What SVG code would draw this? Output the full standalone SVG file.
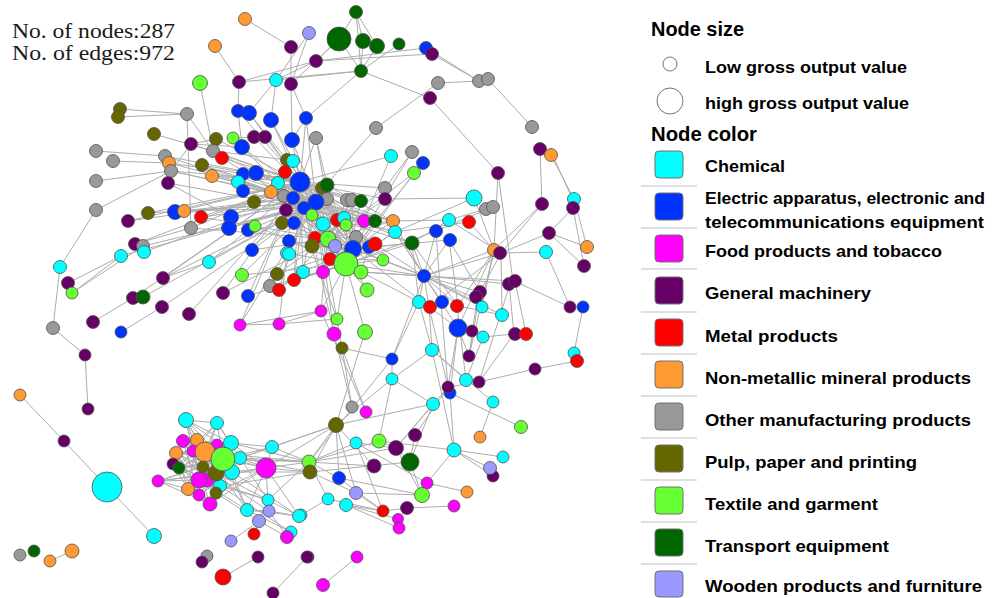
<svg xmlns="http://www.w3.org/2000/svg" width="998" height="598" viewBox="0 0 998 598">
<style>
.e{fill:none;stroke:#adadad;stroke-width:1}
circle{stroke:#505050;stroke-width:.8}
.ch{fill:#00ffff}.el{fill:#0033ff}.fo{fill:#ff00ff}.gm{fill:#660066}.me{fill:#ff0000}.nm{fill:#ff9933}
.ot{fill:#999999}.pu{fill:#666600}.te{fill:#66ff33}.tr{fill:#006600}.wo{fill:#9999ff}
.sw{stroke:#707070;stroke-width:1}
.sep{stroke:#c0c0c0;stroke-width:1}
.lt{font-family:"Liberation Sans",Arial,sans-serif;font-weight:bold;font-size:17px;fill:#000}
.hd{font-family:"Liberation Sans",Arial,sans-serif;font-weight:bold;font-size:20px;fill:#000}
.st{font-family:"Liberation Serif","Times New Roman",serif;font-size:20px;fill:#1a1a1a}
</style>
<rect width="998" height="598" fill="#ffffff"/>
<g id="stats">
<text class="st" x="12" y="38" textLength="163" lengthAdjust="spacingAndGlyphs">No. of nodes:287</text>
<text class="st" x="12" y="60" textLength="163" lengthAdjust="spacingAndGlyphs">No. of edges:972</text>
</g>
<g id="connectors">
<path class="e" d="M245 19L291 47M215 46L239 82M291 47L291 84M309 33L276 80M309 33L291 84M316 61L276 80M316 61L339 39M316 61L426 48M316 61L432 54M316 61L239 82M339 39L356 12M356 12L363 41M356 12L361 71M356 12L377 46M339 39L361 71M363 41L361 71M377 46L361 71M399 44L361 71M339 39L291 84M361 71L306 118M361 71L430 98M361 71L276 80M361 71L239 82M432 54L479 81M426 48L479 81M438 83L479 81M438 83L376 128M376 128L326 185M488 79L532 127M430 98L498 173M498 173L513 281M498 173L494 250M540 149L542 204M551 155L574 199M553 156L575 205M542 204L501 253M573 208L549 233M549 233L501 253M549 233L587 247M574 199L587 247M573 208L584 266M546 252L500 253M546 252L570 307M583 307L574 353M570 307L514 281M577 361L535 369M535 369L479 382M515 281L526 334M509 284L514 334M584 266L549 233"/>
<path class="e" d="M239 82L238 111M276 80L271 120M276 80L249 113M291 84L292 140M291 84L306 118M238 111L242 147M249 113L287 160M271 120L300 182M306 118L300 182M306 118L316 202M306 118L292 140M200 83L213 151M187 114L120 109M187 114L118 117M187 114L213 151M187 114L191 228M154 134L213 151M213 151L300 182M213 151L287 160M233 138L254 137M254 137L265 137M265 137L300 182M254 137L316 202M292 140L300 182M292 140L316 202M316 138L300 182M316 138L327 199M316 138L346 264M191 144L171 171M191 144L242 147M191 144L216 139M216 139L300 182M242 147L293 198M222 158L300 182M222 158L284 196M96 151L165 156M113 161L169 163M96 181L171 171M96 210L171 171M96 210L60 267M60 267L53 328M53 328L85 355M85 355L88 409M165 156L293 198M169 163L300 182M171 171L316 202M171 171L284 196M168 183L304 208M168 183L231 217M202 165L316 202M202 165L284 196M212 176L300 182M212 176L293 198M243 174L316 202M256 173L300 182M243 191L304 208M238 182L316 202M278 183L316 202M270 192L328 239M285 172L346 264M287 160L353 249M293 161L316 202M175 212L293 198M175 212L316 202M184 211L304 208M201 217L300 182M201 217L328 239M148 213L316 202M148 213L300 182M128 221L293 198M128 221L300 182M231 217L316 202M229 228L304 208M191 228L300 182M191 228L328 239M248 230L316 202M255 226L346 264M254 202L300 182M286 210L353 249M282 223L316 202M135 244L300 182M143 246L304 208M121 256L316 202M144 252L293 198M121 256L68 283M121 256L72 293M143 246L72 293M135 244L191 228M163 278L300 182M163 278L316 202M133 298L300 182M143 297L304 208M162 307L316 202M121 332L162 307M93 322L133 298M189 314L293 198M209 262L316 202M209 262L248 230M252 250L316 202M242 275L316 202M242 275L346 264M223 293L300 182M248 296L293 198M270 286L316 202M279 290L304 208M277 274L328 239M294 280L304 208M303 272L300 182M323 272L316 202M209 262L163 278M20 395L64 441M64 441L107 487M107 487L154 536M50 561L72 551M165 156L300 182M169 163L316 202M171 171L300 182M212 176L316 202M202 165L300 182M191 144L300 182M213 151L316 202M242 147L316 202M238 111L300 182M249 113L300 182M271 120L316 202M175 212L300 182M201 217L316 202M229 228L316 202M231 217L300 182M248 230L300 182"/>
<path class="e" d="M300 182L316 202M300 182L327 199M300 182L347 200M300 182L352 200M300 182L361 201M300 182L385 188M300 182L385 199M300 182L323 224M300 182L337 220M300 182L344 218M300 182L364 221M300 182L375 221M300 182L353 249M300 182L328 239M300 182L312 246M293 198L346 264M293 198L353 249M293 198L375 221M293 198L393 221M284 196L353 249M284 196L346 264M284 196L364 221M304 208L346 264M304 208L375 244M304 208L395 232M316 202L346 264M316 202L353 249M316 202L393 221M316 202L412 243M316 202L356 237M316 202L375 221M326 185L353 249M326 185L393 221M327 199L346 264M347 200L346 264M352 200L328 239M361 201L315 238M385 188L312 246M385 199L328 239M385 199L474 198M391 156L346 264M412 152L353 249M423 163L353 249M414 173L328 239M391 156L300 182M414 173L346 264M412 152L385 188M312 215L346 264M294 223L353 249M289 241L346 264M287 253L346 264M252 250L328 239M313 215L375 244M323 224L369 247M337 220L412 243M344 218L395 232M346 225L393 221M364 221L328 239M375 221L346 264M393 221L353 249M395 232L346 264M356 237L315 238M328 239L383 260M346 264L383 260M346 264L412 243M353 249L412 243M346 264L424 276M328 239L424 276M353 249L424 276M375 244L424 276M369 247L361 272M330 259L383 260M361 272L424 276M367 290L346 264M367 290L316 202M303 272L353 249M323 272L346 264M294 280L346 264M277 274L353 249M270 286L346 264M279 290L328 239M248 296L346 264M223 293L328 239M293 198L328 239M284 196L328 239M304 208L353 249M316 202L328 239M300 182L293 198M285 172L316 202M256 173L316 202M271 192L316 202M327 199L353 249M347 200L328 239M352 200L353 249M361 201L346 264M327 199L393 221M304 208L364 221M293 198L337 220M316 202L344 218M300 182L369 247M316 202L375 244M328 239L393 221M346 264L395 232M312 246L353 249M289 241L353 249M294 223L346 264M282 223L353 249M286 210L346 264M316 202L303 272M328 239L323 272M300 182L294 280"/>
<path class="e" d="M395 232L474 198M393 221L449 220M412 243L449 220M395 232L469 222M353 249L449 240M346 264L436 231M424 276L395 232M424 276L383 260M424 276L436 231M424 276L449 240M424 276L494 250M424 276L501 253M424 276L514 281M424 276L510 284M424 276L480 292M424 276L477 299M424 276L419 302M424 276L429 307M424 276L441 302M424 276L458 306M424 276L482 307M424 276L502 315M474 198L494 250M486 209L449 220M493 207L436 231M469 222L494 250M449 220L501 253M494 250L458 306M494 250L482 307M501 253L502 315M501 253L429 307M494 250L469 356M501 253L480 292M542 204L494 250M436 231L441 302M449 240L458 306M412 243L419 302M458 328L441 302M458 328L472 331M458 328L469 356M458 328L450 393M458 328L448 387M458 328L429 307M458 328L494 250M502 315L458 306M483 337L514 334M483 337L466 380M469 356L480 292M469 356L477 299M419 302L392 359M419 302L432 350M429 307L432 350M429 307L448 387M441 302L448 387M457 306L466 380M432 350L392 379M432 350L466 380M432 350L493 402M493 402L480 437M450 393L521 427M448 387L415 435M448 387L396 448M448 387L479 382M479 382L510 284M479 382L514 334M454 450L450 393M454 450L503 457M454 450L427 483M454 450L490 468M454 450L432 350M433 404L392 379M433 404L396 448M433 404L410 462M433 404L336 425M392 359L392 379M392 359L424 276M392 359L342 348M392 379L379 441M392 379L336 425M392 359L309 462M493 476L454 450M424 276L393 221M424 276L412 243M424 276L361 272M419 302L346 264M429 307L353 249M442 302L395 232M458 306L412 243M480 292L449 240"/>
<path class="e" d="M321 311L346 264M321 311L328 239M337 319L346 264M334 334L300 182M334 334L316 202M337 319L293 198M365 332L346 264M365 332L336 425M342 348L316 202M342 348L352 407M342 348L366 412M334 334L352 407M321 311L366 412M240 325L316 202M240 325L300 182M279 324L293 198M279 324L321 311M240 325L279 324M279 324L337 319M240 325L321 311M336 425L309 462M336 425L310 472M336 425L339 478M336 425L356 493M336 425L272 447M336 425L266 468M336 425L374 466M356 443L309 462M356 443L396 448M356 443L427 483M356 443L383 511M379 441L309 462M379 441L396 448M379 441L454 450M415 435L410 462M396 448L309 462M396 448L410 462M396 448L422 495M374 466L309 462M410 462L310 472M410 462L422 495M427 483L467 492M422 495L356 493M422 495L339 478M339 478L309 462M339 478L383 511M356 493L310 472M356 493L383 511M328 499L309 462M328 499L383 511M346 505L383 511M346 505L398 519M346 505L399 528M328 499L301 515M383 511L407 508M407 508L454 506M407 508L398 519M309 462L266 468M310 472L266 468M309 462L240 458M309 462L272 447M310 472L232 472M309 462L223 459M310 472L220 486M309 462L268 500M307 557L273 593M357 557L323 585M258 557L223 577M309 462L231 443M310 472L240 458M336 425L240 458M309 462L205 452"/>
<path class="e" d="M186 420L217 423M186 420L205 452M186 420L231 443M186 420L193 451M217 423L205 452M217 423L231 443M217 423L223 459M217 423L193 451M217 423L240 458M183 441L205 452M183 441L223 459M197 440L223 459M231 443L272 447M231 443L266 468M240 458L272 447M240 458L266 468M223 459L266 468M223 459L272 447M176 453L223 459M176 453L216 473M173 464L220 486M179 468L223 459M158 481L203 467M158 481L223 459M158 481L199 480M158 481L216 473M188 489L223 459M199 495L240 458M210 504L223 459M210 504L240 458M216 493L266 468M232 472L266 468M220 486L268 500M216 473L268 500M205 452L266 468M199 480L266 468M199 480L247 510M207 480L268 500M205 452L247 510M203 467L269 511M223 459L247 510M232 472L299 516M220 486L291 532M216 493L259 521M240 458L268 500M266 468L268 500M266 468L299 516M266 468L247 510M268 500L299 516M247 510L299 516M247 510L269 511M247 510L291 532M269 511L299 516M269 511L287 537M259 521L231 541M259 521L287 537M254 534L259 521M268 500L259 521M183 441L240 458M193 451L232 472M197 440L216 473M176 453L205 452M173 464L207 480M188 489L232 472M199 495L223 459M176 453L231 443M183 441L217 445M193 451L220 486M186 420L240 458M179 468L216 493M173 464L205 452M176 453L199 495M173 464L232 472M179 468L240 458M183 441L216 493M188 489L240 458M197 440L232 472M193 451L216 493M176 453L220 486M203 467L240 458M205 452L232 472M186 420L216 473M217 423L199 480M158 481L232 472M272 447L266 468M232 472L247 510M173 464L197 440M179 468L193 451M176 453L203 467M173 464L188 489M179 468L199 495M176 453L210 504M183 441L207 480M186 420L199 480M173 464L216 473M179 468L205 452M176 453L188 489M183 441L199 495M193 451L210 504M197 440L188 489M186 420L203 467M173 464L217 423M179 468L231 443M176 453L240 458M188 489L216 473M199 495L232 472M210 504L266 468M183 441L231 443M186 420L223 459M158 481L188 489M158 481L210 504"/>
</g>
<g id="nodes">
<g id="n1"><circle class="nm" cx="245" cy="19" r="6.5"/></g>
<g id="n2"><circle class="wo" cx="309" cy="33" r="6.5"/></g>
<g id="n3"><circle class="tr" cx="339" cy="39" r="12"/></g>
<g id="n4"><circle class="tr" cx="356" cy="12" r="6.5"/></g>
<g id="n5"><circle class="tr" cx="363" cy="41" r="7.5"/></g>
<g id="n6"><circle class="tr" cx="377" cy="46" r="7.5"/></g>
<g id="n7"><circle class="tr" cx="399" cy="44" r="6"/></g>
<g id="n8"><circle class="nm" cx="215" cy="46" r="6.5"/></g>
<g id="n9"><circle class="gm" cx="291" cy="47" r="6.5"/></g>
<g id="n10"><circle class="el" cx="426" cy="48" r="6.5"/></g>
<g id="n11"><circle class="gm" cx="432" cy="54" r="6.5"/></g>
<g id="n12"><circle class="gm" cx="316" cy="61" r="6.5"/></g>
<g id="n13"><circle class="tr" cx="361" cy="71" r="6.5"/></g>
<g id="n14"><circle class="te" cx="200" cy="83" r="7.5"/></g>
<g id="n15"><circle class="gm" cx="239" cy="82" r="6.5"/></g>
<g id="n16"><circle class="ch" cx="276" cy="80" r="6.5"/></g>
<g id="n17"><circle class="gm" cx="291" cy="84" r="6.5"/></g>
<g id="n18"><circle class="ot" cx="438" cy="83" r="6.5"/></g>
<g id="n19"><circle class="ot" cx="479" cy="81" r="6.5"/></g>
<g id="n20"><circle class="ot" cx="488" cy="79" r="6.5"/></g>
<g id="n21"><circle class="gm" cx="430" cy="98" r="6.5"/></g>
<g id="n22"><circle class="pu" cx="120" cy="109" r="6.5"/></g>
<g id="n23"><circle class="pu" cx="118" cy="117" r="6.5"/></g>
<g id="n24"><circle class="ot" cx="187" cy="114" r="6.5"/></g>
<g id="n25"><circle class="el" cx="238" cy="111" r="6.5"/></g>
<g id="n26"><circle class="el" cx="249" cy="113" r="7.5"/></g>
<g id="n27"><circle class="el" cx="271" cy="120" r="7.5"/></g>
<g id="n28"><circle class="el" cx="306" cy="118" r="6.5"/></g>
<g id="n29"><circle class="ot" cx="376" cy="128" r="6.5"/></g>
<g id="n30"><circle class="ot" cx="532" cy="127" r="6.5"/></g>
<g id="n31"><circle class="pu" cx="154" cy="134" r="6.5"/></g>
<g id="n32"><circle class="pu" cx="216" cy="139" r="6.5"/></g>
<g id="n33"><circle class="te" cx="233" cy="138" r="6"/></g>
<g id="n34"><circle class="gm" cx="254" cy="137" r="6.5"/></g>
<g id="n35"><circle class="gm" cx="265" cy="137" r="6.5"/></g>
<g id="n36"><circle class="el" cx="292" cy="140" r="7.5"/></g>
<g id="n37"><circle class="ot" cx="316" cy="138" r="6.5"/></g>
<g id="n38"><circle class="ot" cx="96" cy="151" r="6.5"/></g>
<g id="n39"><circle class="gm" cx="191" cy="144" r="6.5"/></g>
<g id="n40"><circle class="ot" cx="213" cy="151" r="6.5"/></g>
<g id="n41"><circle class="el" cx="242" cy="147" r="7.5"/></g>
<g id="n42"><circle class="gm" cx="540" cy="149" r="6.5"/></g>
<g id="n43"><circle class="nm" cx="551" cy="155" r="6.5"/></g>
<g id="n44"><circle class="ch" cx="391" cy="156" r="6.5"/></g>
<g id="n45"><circle class="ot" cx="412" cy="152" r="6.5"/></g>
<g id="n46"><circle class="el" cx="423" cy="163" r="6.5"/></g>
<g id="n47"><circle class="te" cx="414" cy="173" r="6.5"/></g>
<g id="n48"><circle class="gm" cx="498" cy="173" r="6.5"/></g>
<g id="n49"><circle class="ot" cx="113" cy="161" r="6.5"/></g>
<g id="n50"><circle class="ot" cx="165" cy="156" r="6.5"/></g>
<g id="n51"><circle class="nm" cx="169" cy="163" r="6.5"/></g>
<g id="n52"><circle class="ot" cx="171" cy="171" r="6.5"/></g>
<g id="n53"><circle class="pu" cx="202" cy="165" r="6.5"/></g>
<g id="n54"><circle class="me" cx="222" cy="158" r="6.5"/></g>
<g id="n55"><circle class="pu" cx="287" cy="160" r="6.5"/></g>
<g id="n56"><circle class="ch" cx="293" cy="161" r="6.5"/></g>
<g id="n57"><circle class="ot" cx="96" cy="181" r="6.5"/></g>
<g id="n58"><circle class="gm" cx="168" cy="183" r="6.5"/></g>
<g id="n59"><circle class="nm" cx="212" cy="176" r="6.5"/></g>
<g id="n60"><circle class="el" cx="243" cy="174" r="6.5"/></g>
<g id="n61"><circle class="el" cx="256" cy="173" r="7.5"/></g>
<g id="n62"><circle class="me" cx="285" cy="172" r="6.5"/></g>
<g id="n64"><circle class="ch" cx="238" cy="182" r="6.5"/></g>
<g id="n65"><circle class="ch" cx="278" cy="183" r="6.5"/></g>
<g id="n66"><circle class="el" cx="243" cy="191" r="6.5"/></g>
<g id="n67"><circle class="nm" cx="271" cy="192" r="6.5"/></g>
<g id="n68"><circle class="ot" cx="284" cy="196" r="6.5"/></g>
<g id="n63"><circle class="el" cx="300" cy="182" r="10"/></g>
<g id="n70"><circle class="pu" cx="322" cy="188" r="6.5"/></g>
<g id="n69"><circle class="tr" cx="327" cy="185" r="7"/></g>
<g id="n71"><circle class="el" cx="293" cy="198" r="6.5"/></g>
<g id="n73"><circle class="ot" cx="327" cy="199" r="6.5"/></g>
<g id="n72"><circle class="el" cx="316" cy="202" r="8"/></g>
<g id="n74"><circle class="ot" cx="347" cy="200" r="6.5"/></g>
<g id="n75"><circle class="ot" cx="352" cy="200" r="6.5"/></g>
<g id="n76"><circle class="tr" cx="361" cy="201" r="6.5"/></g>
<g id="n77"><circle class="ot" cx="385" cy="188" r="6.5"/></g>
<g id="n78"><circle class="gm" cx="385" cy="199" r="6.5"/></g>
<g id="n79"><circle class="ch" cx="474" cy="198" r="8"/></g>
<g id="n80"><circle class="ot" cx="486" cy="209" r="6.5"/></g>
<g id="n81"><circle class="ot" cx="493" cy="207" r="6.5"/></g>
<g id="n82"><circle class="gm" cx="542" cy="204" r="6.5"/></g>
<g id="n83"><circle class="ch" cx="574" cy="199" r="6.5"/></g>
<g id="n84"><circle class="gm" cx="573" cy="208" r="6.5"/></g>
<g id="n85"><circle class="ot" cx="96" cy="210" r="6.5"/></g>
<g id="n86"><circle class="pu" cx="148" cy="213" r="6.5"/></g>
<g id="n87"><circle class="el" cx="175" cy="212" r="7.5"/></g>
<g id="n88"><circle class="nm" cx="184" cy="211" r="6.5"/></g>
<g id="n89"><circle class="me" cx="201" cy="217" r="6.5"/></g>
<g id="n90"><circle class="gm" cx="128" cy="221" r="6.5"/></g>
<g id="n91"><circle class="pu" cx="254" cy="202" r="6.5"/></g>
<g id="n92"><circle class="gm" cx="286" cy="210" r="6.5"/></g>
<g id="n93"><circle class="el" cx="304" cy="208" r="6.5"/></g>
<g id="n94"><circle class="te" cx="312" cy="215" r="6"/></g>
<g id="n95"><circle class="el" cx="231" cy="217" r="7.5"/></g>
<g id="n96"><circle class="el" cx="229" cy="228" r="7.5"/></g>
<g id="n97"><circle class="ot" cx="191" cy="228" r="6.5"/></g>
<g id="n98"><circle class="el" cx="248" cy="230" r="6.5"/></g>
<g id="n99"><circle class="te" cx="255" cy="226" r="6"/></g>
<g id="n100"><circle class="pu" cx="282" cy="223" r="6.5"/></g>
<g id="n101"><circle class="el" cx="294" cy="223" r="6.5"/></g>
<g id="n102"><circle class="ch" cx="323" cy="224" r="7"/></g>
<g id="n103"><circle class="me" cx="337" cy="220" r="6.5"/></g>
<g id="n104"><circle class="ch" cx="344" cy="218" r="6.5"/></g>
<g id="n105"><circle class="te" cx="346" cy="225" r="6"/></g>
<g id="n106"><circle class="fo" cx="364" cy="221" r="6.5"/></g>
<g id="n107"><circle class="tr" cx="375" cy="221" r="6.5"/></g>
<g id="n108"><circle class="nm" cx="393" cy="221" r="6.5"/></g>
<g id="n109"><circle class="ch" cx="395" cy="232" r="6.5"/></g>
<g id="n110"><circle class="ch" cx="449" cy="220" r="6.5"/></g>
<g id="n111"><circle class="me" cx="469" cy="222" r="6.5"/></g>
<g id="n112"><circle class="el" cx="436" cy="231" r="6.5"/></g>
<g id="n113"><circle class="el" cx="450" cy="240" r="6.5"/></g>
<g id="n114"><circle class="gm" cx="549" cy="233" r="6.5"/></g>
<g id="n115"><circle class="nm" cx="587" cy="247" r="6.5"/></g>
<g id="n116"><circle class="ch" cx="546" cy="252" r="6.5"/></g>
<g id="n117"><circle class="nm" cx="494" cy="250" r="6.5"/></g>
<g id="n118"><circle class="gm" cx="500" cy="253" r="6.5"/></g>
<g id="n119"><circle class="gm" cx="584" cy="266" r="6.5"/></g>
<g id="n120"><circle class="gm" cx="135" cy="244" r="6.5"/></g>
<g id="n121"><circle class="ot" cx="143" cy="246" r="6.5"/></g>
<g id="n122"><circle class="ch" cx="121" cy="256" r="6.5"/></g>
<g id="n123"><circle class="ch" cx="144" cy="252" r="6.5"/></g>
<g id="n124"><circle class="el" cx="289" cy="241" r="6.5"/></g>
<g id="n125"><circle class="me" cx="315" cy="238" r="6.5"/></g>
<g id="n127"><circle class="pu" cx="312" cy="246" r="7"/></g>
<g id="n126"><circle class="te" cx="328" cy="239" r="8"/></g>
<g id="n128"><circle class="wo" cx="335" cy="246" r="6.5"/></g>
<g id="n129"><circle class="ot" cx="356" cy="237" r="6.5"/></g>
<g id="n130"><circle class="el" cx="353" cy="249" r="8.5"/></g>
<g id="n131"><circle class="el" cx="369" cy="247" r="6.5"/></g>
<g id="n132"><circle class="me" cx="375" cy="244" r="7"/></g>
<g id="n133"><circle class="tr" cx="412" cy="243" r="7"/></g>
<g id="n134"><circle class="el" cx="252" cy="250" r="6.5"/></g>
<g id="n135"><circle class="ch" cx="287" cy="253" r="6.5"/></g>
<g id="n136"><circle class="ch" cx="289" cy="254" r="6.5"/></g>
<g id="n137"><circle class="ch" cx="60" cy="267" r="6.5"/></g>
<g id="n138"><circle class="ch" cx="209" cy="262" r="6.5"/></g>
<g id="n139"><circle class="me" cx="330" cy="259" r="6.5"/></g>
<g id="n140"><circle class="te" cx="346" cy="264" r="12"/></g>
<g id="n141"><circle class="te" cx="383" cy="260" r="6"/></g>
<g id="n142"><circle class="te" cx="361" cy="272" r="7"/></g>
<g id="n143"><circle class="fo" cx="323" cy="272" r="6.5"/></g>
<g id="n144"><circle class="ch" cx="303" cy="272" r="6.5"/></g>
<g id="n145"><circle class="me" cx="294" cy="280" r="6.5"/></g>
<g id="n146"><circle class="pu" cx="277" cy="274" r="6.5"/></g>
<g id="n147"><circle class="te" cx="242" cy="275" r="6.5"/></g>
<g id="n148"><circle class="ot" cx="270" cy="286" r="6.5"/></g>
<g id="n149"><circle class="me" cx="279" cy="290" r="6.5"/></g>
<g id="n150"><circle class="gm" cx="223" cy="293" r="6.5"/></g>
<g id="n151"><circle class="el" cx="248" cy="296" r="6.5"/></g>
<g id="n152"><circle class="te" cx="367" cy="290" r="7"/></g>
<g id="n153"><circle class="el" cx="424" cy="276" r="6.5"/></g>
<g id="n154"><circle class="gm" cx="509" cy="284" r="6.5"/></g>
<g id="n155"><circle class="gm" cx="515" cy="281" r="6.5"/></g>
<g id="n156"><circle class="gm" cx="480" cy="292" r="6.5"/></g>
<g id="n157"><circle class="gm" cx="476" cy="297" r="6.5"/></g>
<g id="n158"><circle class="gm" cx="68" cy="283" r="6.5"/></g>
<g id="n159"><circle class="te" cx="72" cy="293" r="6"/></g>
<g id="n160"><circle class="gm" cx="163" cy="278" r="6.5"/></g>
<g id="n161"><circle class="gm" cx="133" cy="298" r="6.5"/></g>
<g id="n162"><circle class="tr" cx="143" cy="297" r="7"/></g>
<g id="n163"><circle class="gm" cx="162" cy="307" r="6.5"/></g>
<g id="n164"><circle class="gm" cx="189" cy="314" r="6.5"/></g>
<g id="n165"><circle class="gm" cx="93" cy="322" r="6.5"/></g>
<g id="n166"><circle class="el" cx="121" cy="332" r="6"/></g>
<g id="n167"><circle class="ot" cx="53" cy="328" r="6.5"/></g>
<g id="n168"><circle class="gm" cx="85" cy="355" r="6"/></g>
<g id="n169"><circle class="gm" cx="88" cy="409" r="6"/></g>
<g id="n170"><circle class="nm" cx="20" cy="395" r="6"/></g>
<g id="n171"><circle class="gm" cx="64" cy="441" r="6"/></g>
<g id="n172"><circle class="ch" cx="107" cy="487" r="15"/></g>
<g id="n173"><circle class="ch" cx="154" cy="536" r="7.5"/></g>
<g id="n174"><circle class="ot" cx="20" cy="555" r="6"/></g>
<g id="n175"><circle class="tr" cx="34" cy="551" r="6"/></g>
<g id="n176"><circle class="nm" cx="50" cy="561" r="6"/></g>
<g id="n177"><circle class="nm" cx="72" cy="551" r="7"/></g>
<g id="n178"><circle class="fo" cx="240" cy="325" r="6"/></g>
<g id="n179"><circle class="fo" cx="279" cy="324" r="6"/></g>
<g id="n180"><circle class="fo" cx="321" cy="311" r="6"/></g>
<g id="n181"><circle class="te" cx="337" cy="319" r="6"/></g>
<g id="n182"><circle class="te" cx="365" cy="332" r="7.5"/></g>
<g id="n183"><circle class="fo" cx="334" cy="334" r="7"/></g>
<g id="n184"><circle class="pu" cx="342" cy="348" r="6"/></g>
<g id="n185"><circle class="ch" cx="419" cy="302" r="6.5"/></g>
<g id="n186"><circle class="me" cx="430" cy="307" r="6.5"/></g>
<g id="n187"><circle class="el" cx="442" cy="302" r="6.5"/></g>
<g id="n188"><circle class="me" cx="457" cy="306" r="6.5"/></g>
<g id="n189"><circle class="ch" cx="482" cy="307" r="6"/></g>
<g id="n190"><circle class="ch" cx="502" cy="315" r="6.5"/></g>
<g id="n191"><circle class="gm" cx="570" cy="307" r="6"/></g>
<g id="n192"><circle class="el" cx="583" cy="307" r="6"/></g>
<g id="n193"><circle class="el" cx="458" cy="328" r="9"/></g>
<g id="n194"><circle class="gm" cx="472" cy="331" r="6"/></g>
<g id="n195"><circle class="ch" cx="483" cy="337" r="6"/></g>
<g id="n196"><circle class="gm" cx="515" cy="334" r="6.5"/></g>
<g id="n197"><circle class="me" cx="526" cy="334" r="6.5"/></g>
<g id="n198"><circle class="el" cx="392" cy="359" r="6"/></g>
<g id="n199"><circle class="ch" cx="432" cy="350" r="6.5"/></g>
<g id="n200"><circle class="gm" cx="469" cy="356" r="6"/></g>
<g id="n201"><circle class="gm" cx="535" cy="369" r="6"/></g>
<g id="n202"><circle class="ch" cx="574" cy="353" r="6"/></g>
<g id="n203"><circle class="me" cx="577" cy="361" r="6.5"/></g>
<g id="n204"><circle class="ch" cx="392" cy="379" r="6"/></g>
<g id="n205"><circle class="el" cx="450" cy="393" r="6"/></g>
<g id="n206"><circle class="gm" cx="448" cy="387" r="6"/></g>
<g id="n207"><circle class="ch" cx="466" cy="380" r="6.5"/></g>
<g id="n208"><circle class="gm" cx="479" cy="382" r="6"/></g>
<g id="n209"><circle class="ch" cx="433" cy="404" r="6.5"/></g>
<g id="n210"><circle class="ot" cx="352" cy="407" r="6"/></g>
<g id="n211"><circle class="fo" cx="366" cy="412" r="6"/></g>
<g id="n212"><circle class="ch" cx="493" cy="402" r="6"/></g>
<g id="n213"><circle class="te" cx="521" cy="427" r="6.5"/></g>
<g id="n214"><circle class="nm" cx="480" cy="437" r="6"/></g>
<g id="n215"><circle class="pu" cx="336" cy="425" r="7.5"/></g>
<g id="n216"><circle class="ch" cx="356" cy="443" r="6"/></g>
<g id="n217"><circle class="te" cx="379" cy="441" r="7"/></g>
<g id="n218"><circle class="gm" cx="415" cy="435" r="6.5"/></g>
<g id="n219"><circle class="gm" cx="396" cy="448" r="7.5"/></g>
<g id="n220"><circle class="ch" cx="454" cy="450" r="7"/></g>
<g id="n221"><circle class="ch" cx="503" cy="457" r="6"/></g>
<g id="n222"><circle class="tr" cx="410" cy="462" r="9"/></g>
<g id="n223"><circle class="gm" cx="374" cy="466" r="7"/></g>
<g id="n224"><circle class="te" cx="309" cy="462" r="7"/></g>
<g id="n225"><circle class="pu" cx="310" cy="472" r="7"/></g>
<g id="n226"><circle class="el" cx="339" cy="478" r="6.5"/></g>
<g id="n228"><circle class="gm" cx="493" cy="476" r="6"/></g>
<g id="n227"><circle class="wo" cx="490" cy="468" r="6.5"/></g>
<g id="n229"><circle class="fo" cx="427" cy="483" r="6"/></g>
<g id="n230"><circle class="te" cx="422" cy="495" r="7.5"/></g>
<g id="n231"><circle class="nm" cx="467" cy="492" r="6"/></g>
<g id="n232"><circle class="wo" cx="356" cy="493" r="6.5"/></g>
<g id="n233"><circle class="ch" cx="328" cy="499" r="6"/></g>
<g id="n234"><circle class="ch" cx="346" cy="505" r="6.5"/></g>
<g id="n235"><circle class="me" cx="383" cy="511" r="6"/></g>
<g id="n236"><circle class="gm" cx="407" cy="508" r="6.5"/></g>
<g id="n237"><circle class="fo" cx="398" cy="519" r="5.5"/></g>
<g id="n238"><circle class="fo" cx="399" cy="528" r="6"/></g>
<g id="n239"><circle class="fo" cx="454" cy="506" r="6"/></g>
<g id="n240"><circle class="ch" cx="301" cy="515" r="6"/></g>
<g id="n241"><circle class="gm" cx="308" cy="557" r="6"/></g>
<g id="n242"><circle class="fo" cx="357" cy="557" r="6"/></g>
<g id="n243"><circle class="fo" cx="323" cy="585" r="6.5"/></g>
<g id="n244"><circle class="ch" cx="186" cy="420" r="7.5"/></g>
<g id="n245"><circle class="ch" cx="217" cy="423" r="6.5"/></g>
<g id="n254"><circle class="nm" cx="176" cy="453" r="6.5"/></g>
<g id="n246"><circle class="fo" cx="183" cy="441" r="6.5"/></g>
<g id="n247"><circle class="nm" cx="197" cy="440" r="6.5"/></g>
<g id="n248"><circle class="fo" cx="193" cy="451" r="6"/></g>
<g id="n250"><circle class="fo" cx="217" cy="445" r="6"/></g>
<g id="n249"><circle class="nm" cx="205" cy="452" r="10"/></g>
<g id="n251"><circle class="ch" cx="231" cy="443" r="7.5"/></g>
<g id="n253"><circle class="ch" cx="240" cy="458" r="6.5"/></g>
<g id="n259"><circle class="ch" cx="232" cy="472" r="7.5"/></g>
<g id="n264"><circle class="ch" cx="220" cy="486" r="6.5"/></g>
<g id="n255"><circle class="gm" cx="173" cy="464" r="6"/></g>
<g id="n256"><circle class="tr" cx="179" cy="468" r="6"/></g>
<g id="n262"><circle class="fo" cx="158" cy="481" r="6"/></g>
<g id="n263"><circle class="nm" cx="188" cy="489" r="6.5"/></g>
<g id="n266"><circle class="fo" cx="199" cy="495" r="6"/></g>
<g id="n267"><circle class="fo" cx="210" cy="504" r="7"/></g>
<g id="n261"><circle class="fo" cx="207" cy="480" r="7"/></g>
<g id="n260"><circle class="fo" cx="199" cy="480" r="8"/></g>
<g id="n265"><circle class="pu" cx="216" cy="493" r="6"/></g>
<g id="n257"><circle class="pu" cx="203" cy="467" r="6"/></g>
<g id="n258"><circle class="pu" cx="216" cy="473" r="8"/></g>
<g id="n252"><circle class="te" cx="223" cy="459" r="12"/></g>
<g id="n268"><circle class="fo" cx="266" cy="468" r="10"/></g>
<g id="n269"><circle class="ch" cx="272" cy="447" r="6.5"/></g>
<g id="n270"><circle class="ch" cx="268" cy="500" r="6"/></g>
<g id="n271"><circle class="ch" cx="247" cy="510" r="6.5"/></g>
<g id="n272"><circle class="wo" cx="269" cy="511" r="6"/></g>
<g id="n273"><circle class="ch" cx="299" cy="516" r="6.5"/></g>
<g id="n274"><circle class="wo" cx="259" cy="521" r="6.5"/></g>
<g id="n275"><circle class="me" cx="254" cy="534" r="6"/></g>
<g id="n276"><circle class="ch" cx="291" cy="532" r="6"/></g>
<g id="n277"><circle class="fo" cx="287" cy="537" r="6.5"/></g>
<g id="n278"><circle class="wo" cx="231" cy="541" r="6"/></g>
<g id="n279"><circle class="ot" cx="207" cy="556" r="6"/></g>
<g id="n280"><circle class="gm" cx="202" cy="562" r="6"/></g>
<g id="n281"><circle class="gm" cx="258" cy="557" r="6"/></g>
<g id="n282"><circle class="me" cx="223" cy="577" r="8"/></g>
<g id="n283"><circle class="gm" cx="307" cy="557" r="6"/></g>
<g id="n284"><circle class="gm" cx="273" cy="593" r="6"/></g>
</g>
<g id="legend">
<text class="hd" x="651" y="36" textLength="93" lengthAdjust="spacingAndGlyphs">Node size</text>
<circle cx="670" cy="64" r="7" fill="#ffffff" stroke="#000" stroke-width="1.2"/>
<text class="lt" x="705" y="73" textLength="202" lengthAdjust="spacingAndGlyphs">Low gross output value</text>
<circle cx="670" cy="101" r="13" fill="#ffffff" stroke="#000" stroke-width="1.2"/>
<text class="lt" x="705" y="109" textLength="204" lengthAdjust="spacingAndGlyphs">high gross output value</text>
<text class="hd" x="651" y="141" textLength="106" lengthAdjust="spacingAndGlyphs">Node color</text>
<g class="sep">
<line x1="641" y1="186" x2="697" y2="186"/><line x1="641" y1="228" x2="697" y2="228"/><line x1="641" y1="269" x2="697" y2="269"/><line x1="641" y1="312" x2="697" y2="312"/><line x1="641" y1="354" x2="697" y2="354"/><line x1="641" y1="396" x2="697" y2="396"/><line x1="641" y1="438" x2="697" y2="438"/><line x1="641" y1="480" x2="697" y2="480"/><line x1="641" y1="522" x2="697" y2="522"/><line x1="641" y1="564" x2="697" y2="564"/>
</g>
<rect class="sw ch" x="655" y="151" width="28" height="27" rx="4"/>
<text class="lt" x="705" y="172" textLength="80" lengthAdjust="spacingAndGlyphs">Chemical</text>
<rect class="sw el" x="655" y="193" width="28" height="27" rx="4"/>
<text class="lt" x="705" y="204" textLength="280" lengthAdjust="spacingAndGlyphs">Electric apparatus, electronic and</text>
<text class="lt" x="705" y="228" textLength="279" lengthAdjust="spacingAndGlyphs">telecommunications equipment</text>
<rect class="sw fo" x="655" y="235" width="28" height="27" rx="4"/>
<text class="lt" x="705" y="257" textLength="237" lengthAdjust="spacingAndGlyphs">Food products and tobacco</text>
<rect class="sw gm" x="655" y="277" width="28" height="27" rx="4"/>
<text class="lt" x="705" y="299" textLength="166" lengthAdjust="spacingAndGlyphs">General machinery</text>
<rect class="sw me" x="655" y="319" width="28" height="27" rx="4"/>
<text class="lt" x="705" y="342" textLength="133" lengthAdjust="spacingAndGlyphs">Metal products</text>
<rect class="sw nm" x="655" y="361" width="28" height="27" rx="4"/>
<text class="lt" x="705" y="384" textLength="266" lengthAdjust="spacingAndGlyphs">Non-metallic mineral products</text>
<rect class="sw ot" x="655" y="403" width="28" height="27" rx="4"/>
<text class="lt" x="705" y="426" textLength="266" lengthAdjust="spacingAndGlyphs">Other manufacturing products</text>
<rect class="sw pu" x="655" y="445" width="28" height="27" rx="4"/>
<text class="lt" x="705" y="468" textLength="212" lengthAdjust="spacingAndGlyphs">Pulp, paper and printing</text>
<rect class="sw te" x="655" y="487" width="28" height="27" rx="4"/>
<text class="lt" x="705" y="510" textLength="173" lengthAdjust="spacingAndGlyphs">Textile and garment</text>
<rect class="sw tr" x="655" y="529" width="28" height="27" rx="4"/>
<text class="lt" x="705" y="552" textLength="184" lengthAdjust="spacingAndGlyphs">Transport equipment</text>
<rect class="sw wo" x="655" y="571" width="28" height="26" rx="4"/>
<text class="lt" x="705" y="592" textLength="277" lengthAdjust="spacingAndGlyphs">Wooden products and furniture</text>
</g>
</svg>
